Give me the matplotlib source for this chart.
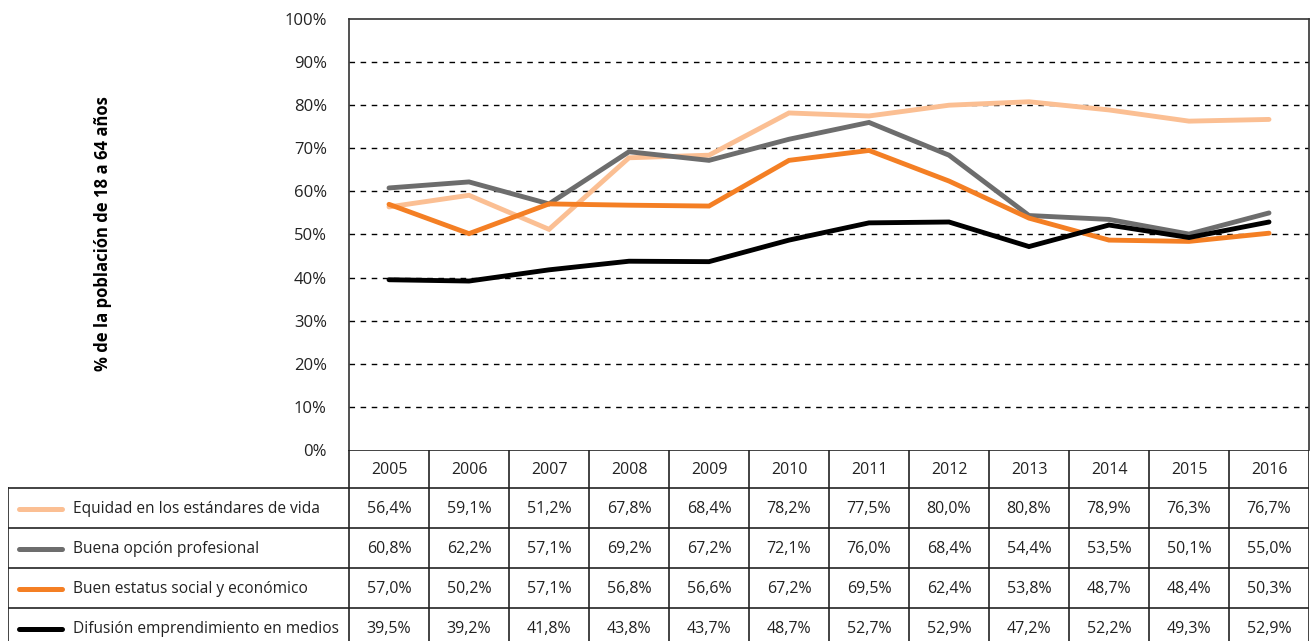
import matplotlib
matplotlib.use("Agg")
import matplotlib.pyplot as plt
import numpy as np

plt.rcParams['font.family'] = ['Open Sans', 'DejaVu Sans']

# Data
years = ["2005", "2006", "2007", "2008", "2009", "2010", "2011", "2012", "2013", "2014", "2015", "2016"]
series_names = [
    "Equidad en los estándares de vida",
    "Buena opción profesional",
    "Buen estatus social y económico",
    "Difusión emprendimiento en medios",
]
equidad = [56.4, 59.1, 51.2, 67.8, 68.4, 78.2, 77.5, 80.0, 80.8, 78.9, 76.3, 76.7]
buena_opcion = [60.8, 62.2, 57.1, 69.2, 67.2, 72.1, 76.0, 68.4, 54.4, 53.5, 50.1, 55.0]
buen_estatus = [57.0, 50.2, 57.1, 56.8, 56.6, 67.2, 69.5, 62.4, 53.8, 48.7, 48.4, 50.3]
difusion = [39.5, 39.2, 41.8, 43.8, 43.7, 48.7, 52.7, 52.9, 47.2, 52.2, 49.3, 52.9]
colors = ["#FBBF93", "#6D6D6D", "#F47F24", "#000000"]

all_series = [equidad, buena_opcion, buen_estatus, difusion]

W, H = 1311, 641
fig = plt.figure(figsize=(W / 100, H / 100), dpi=100)

# pixel layout
plot_l, plot_r, plot_t, plot_b = 349, 1309, 19, 450
tab_l = 8
col_w = (plot_r - plot_l) / len(years)

ax = fig.add_axes([plot_l / W, 1 - plot_b / H, (plot_r - plot_l) / W, (plot_b - plot_t) / H])
x = np.arange(len(years))
for vals, c in zip(all_series, colors):
    ax.plot(x, vals, color=c, lw=3.5, solid_capstyle="round", solid_joinstyle="miter", zorder=3)

ax.set_xlim(-0.5, len(years) - 0.5)
ax.set_ylim(0, 100)
ax.set_yticks(np.arange(0, 101, 10))
ax.set_yticklabels([f"{v}%" for v in range(0, 101, 10)], fontsize=12, color="#222222")
ax.set_xticks([])
ax.tick_params(axis="y", length=0, pad=16)
for yv in range(10, 100, 10):
    ax.axhline(yv, color="black", lw=1, ls=(0, (4, 4)), zorder=1)
for s in ["left", "top", "right"]:
    ax.spines[s].set_color("#333333")
    ax.spines[s].set_linewidth(1.2)
ax.spines["bottom"].set_visible(False)

fig.text(103 / W, 1 - 234 / H, "% de la población de 18 a 64 años", rotation=90,
         ha="center", va="center", fontsize=12, fontweight="bold")

# table below the plot
tab = fig.add_axes([tab_l / W, 0, (plot_r - tab_l) / W, (H - plot_b) / H])
label_cols = (plot_l - tab_l) / col_w
tab.set_xlim(-0.5 - label_cols, len(years) - 0.5)
tab.set_ylim(H - plot_b, 0)
tab.axis("off")

lc = "#222222"
fs = 11.5
hdr_h = 38
row_h = 40
x0 = -0.5 - label_cols
xl = -0.5
xr = len(years) - 0.5
# header row
tab.plot([xl, xr], [0, 0], color=lc, lw=1.2)
for i in range(len(years) + 1):
    tab.plot([xl + i, xl + i], [0, hdr_h + row_h * 4], color=lc, lw=1.2)
for i, yr in enumerate(years):
    tab.text(i, hdr_h / 2 + 1, yr, ha="center", va="center", fontsize=fs, color="#222222")
tab.plot([x0, x0], [hdr_h, hdr_h + row_h * 4], color=lc, lw=1.2)
for r in range(5):
    yy = hdr_h + r * row_h
    tab.plot([x0, xr], [yy, yy], color=lc, lw=1.2)

sw_px0, sw_px1, txt_px = 19, 62, 73
for r, (name, vals, c) in enumerate(zip(series_names, all_series, colors)):
    yc = hdr_h + r * row_h + row_h / 2 + 1
    tab.plot([x0 + (sw_px0 - tab_l) / col_w, x0 + (sw_px1 - tab_l) / col_w], [yc, yc],
             color=c, lw=3.6, solid_capstyle="round")
    tab.text(x0 + (txt_px - tab_l) / col_w, yc, name, ha="left", va="center", fontsize=11.2, color="#222222")
    for i, v in enumerate(vals):
        tab.text(i, yc, f"{v:.1f}%".replace(".", ","), ha="center", va="center", fontsize=fs, color="#222222")

fig.savefig("out.png", dpi=100)
